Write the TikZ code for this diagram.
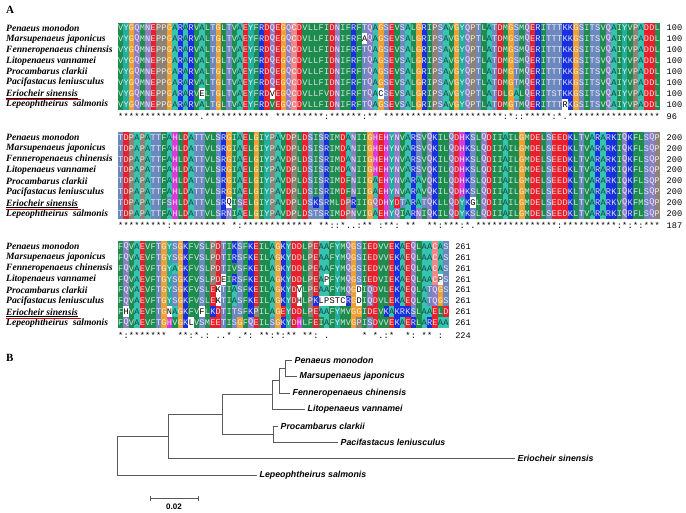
\documentclass[tikz,border=0pt]{standalone}
\usepackage{fontspec}
\setmainfont{Liberation Serif}
\newfontfamily\resfont{Liberation Mono}
\newfontfamily\arialfont{Liberation Sans}
\usepackage{tikz}
\newcount\rescol

\begin{document}
\begin{tikzpicture}[x=1pt,y=-1pt,
  res/.style={inner sep=0pt,font=\resfont\fontsize{8.6}{9}\selectfont},
  spname/.style={anchor=west,inner sep=0pt,font=\bfseries\itshape\fontsize{9.6}{11}\selectfont},
  leaf/.style={anchor=west,inner sep=2.5pt,font=\arialfont\bfseries\itshape\fontsize{8.8}{10}\selectfont},
  branch/.style={draw=treeGray,line width=0.9pt},
  panel/.style={anchor=west,inner sep=0pt,font=\bfseries\fontsize{11}{12}\selectfont}]
\useasboundingbox (0,0) rectangle (686,513);

% Colori dei residui (stile ClustalX)
\definecolor{hydGreen}{HTML}{1E8C4E}
\definecolor{alaCyan}{HTML}{36C4B0}
\definecolor{tyrTeal}{HTML}{22AE9E}
\definecolor{hisMag}{HTML}{D83CD8}
\definecolor{glyOrange}{HTML}{F0A030}
\definecolor{proTaupe}{HTML}{8E8274}
\definecolor{polSlate}{HTML}{6C88BE}
\definecolor{amdLilac}{HTML}{8C7EC4}
\definecolor{acdRed}{HTML}{E8202C}
\definecolor{basBlue}{HTML}{1830E0}
\definecolor{cysPink}{HTML}{F08888}
\definecolor{treeGray}{HTML}{5A5A5A}
\colorlet{bgV}{hydGreen}\colorlet{bgL}{hydGreen}\colorlet{bgI}{hydGreen}
\colorlet{bgM}{hydGreen}\colorlet{bgF}{hydGreen}\colorlet{bgW}{hydGreen}
\colorlet{bgA}{alaCyan}\colorlet{bgY}{tyrTeal}\colorlet{bgH}{hisMag}
\colorlet{bgG}{glyOrange}\colorlet{bgP}{proTaupe}\colorlet{bgC}{cysPink}
\colorlet{bgS}{polSlate}\colorlet{bgT}{polSlate}
\colorlet{bgN}{amdLilac}\colorlet{bgQ}{amdLilac}
\colorlet{bgD}{acdRed}\colorlet{bgE}{acdRed}
\colorlet{bgK}{basBlue}\colorlet{bgR}{basBlue}
\colorlet{fgV}{hydGreen!20!white}\colorlet{fgL}{fgV}\colorlet{fgI}{fgV}
\colorlet{fgM}{fgV}\colorlet{fgF}{fgV}\colorlet{fgW}{fgV}
\colorlet{fgA}{alaCyan!35!black}\colorlet{fgY}{tyrTeal!15!white}
\colorlet{fgH}{hisMag!15!white}\colorlet{fgG}{glyOrange!20!white}
\colorlet{fgP}{proTaupe!15!white}\colorlet{fgC}{white}
\colorlet{fgS}{polSlate!15!white}\colorlet{fgT}{fgS}
\colorlet{fgN}{amdLilac!15!white}\colorlet{fgQ}{fgN}
\colorlet{fgD}{acdRed!15!white}\colorlet{fgE}{fgD}
\colorlet{fgK}{basBlue!15!white}\colorlet{fgR}{fgK}

% Geometria dell'allineamento
\def\ax{118}   % bordo sinistro
\def\cw{5.42}  % larghezza colonna
\def\rh{10.9}  % altezza riga

% una riga: minuscola = residuo non colorato
\def\resloop#1{\ifx#1\relax\else\rescell#1\expandafter\resloop\fi}
\def\rescell#1{%
  \global\advance\rescol by 1
  \ifnum`#1>`Z \def\cbg{white}\def\cfg{black}\else\def\cbg{bg#1}\def\cfg{fg#1}\fi
  \pgfmathsetmacro\cx{\ax+(\the\rescol-1)*\cw}%
  \fill[fill=\cbg] (\cx,\ry-0.5*\rh) rectangle (\cx+\cw+0.06,\ry+0.5*\rh);
  \node[res,text=\cfg] (\rtag c\the\rescol) at (\cx+0.5*\cw,\ry) {\uppercase{#1}};}
\def\seqrow#1#2#3#4{\def\rtag{#1}\def\ry{#2}\global\rescol=0
  \resloop#4\relax
  \pgfmathsetmacro\cx{\ax+\the\rescol*\cw+6.5}%
  \node[res,anchor=west] (#1n) at (\cx,\ry) {#3};}

% riga di conservazione: '-' = spazio
\def\consloop#1{\ifx#1\relax\else\conscell#1\expandafter\consloop\fi}
\def\conscell#1{%
  \global\advance\rescol by 1
  \if#1-\else
    \pgfmathsetmacro\cx{\ax+(\the\rescol-0.5)*\cw}%
    \node[res,anchor=base] (\rtag c\the\rescol) at (\cx,\ry) {#1};%
  \fi}
\def\consrow#1#2#3#4{\def\rtag{#1}\def\ry{#2}\global\rescol=0
  \consloop#4\relax
  \pgfmathsetmacro\cx{\ax+\the\rescol*\cw+6.5}%
  \node[res,anchor=base west] (#1n) at (\cx,\ry) {#3};}

% nomi delle specie
\def\spnames#1#2{%
  \foreach \nm [count=\i] in {Penaeus monodon,Marsupenaeus japonicus,
      Fenneropenaeus chinensis,Litopenaeus vannamei,Procambarus clarkii,
      Pacifastacus leniusculus,Eriocheir sinensis,Lepeophtheirus\ \ salmonis}
    \node[spname] (#1s\i) at (6,{#2+(\i-1)*\rh}) {\nm};
  \draw[line width=0.5pt] ([yshift=-1.3pt]#1s7.base west) -- ([yshift=-1.3pt]#1s7.base east);
  \draw[red!85!black,line width=0.7pt] ([yshift=-3pt]#1s7.base west) -- ([xshift=3pt,yshift=-3pt]#1s7.base east);}

% Etichette dei pannelli
\node[panel] (labA) at (6,10) {A};
\node[panel] (labB) at (6,358) {B};

% Blocco 1 (1-100)
\spnames{b1}{28}
\seqrow{b1r1}{28.0}{100}{VYGQMNEPPGARARVALTGLTVAEYFRDQEGQCDVLLFIDNIFRFTQAGSEVSALGRIPSAVGYQPTLATDMGSMQERITTTKKGSITSVQAIYVPADDL}
\seqrow{b1r2}{38.9}{100}{VYGQMNEPPGARARVALTGLTVAEYFRDQEGQCDVLLFIDNIFRFaQAGSEVSALGRIPSAVGYQPTLATDMGSMQERITTTKKGSITSVQAIYVPADDL}
\seqrow{b1r3}{49.8}{100}{VYGQMNEPPGARARVALTGLTVAEYFRDQEGQCDVLLFIDNIFRFTQAGSEVSALGRIPSAVGYQPTLATDMGSMQERITTTKKGSITSVQAIYVPADDL}
\seqrow{b1r4}{60.7}{100}{VYGQMNEPPGARARVALTGLTVAEYFRDQEGQCDVLLFIDNIFRFTQAGSEVSALGRIPSAVGYQPTLATDMGSMQERITTTKKGSITSVQAIYVPADDL}
\seqrow{b1r5}{71.6}{100}{VYGQMNEPPGARARVALTGLTVAEYFRDQEGQCDVLLFIDNIFRFTQAGSEVSALGRIPSAVGYQPTLATDMGTMQERITTTKKGSITSVQAIYVPADDL}
\seqrow{b1r6}{82.5}{100}{VYGQMNEPPGARARVALTGLTVAEYFRDQEGQCDVLLFIDNIFRFTQAGSEVSALGRIPSAVGYQPTLATDMGTMQERITTTKKGSITSVQAIYVPADDL}
\seqrow{b1r7}{93.4}{100}{VYGQMNEPPGARARVeLTGLTVAEYFRDvEGQCDVLLFVDNIFRFTQAcSEVSALGRIPSAVGYQPTLATDLGALQERITSTKKGSITSVQAIYVPADDL}
\seqrow{b1r8}{104.3}{100}{VYGQMNEPPGARARVALTGLTVAEYFRDVEGQCDVLLFIDNIFRFTQAGSEVSALGRIPSAVGYQPTLATDMGTMQERITTTrKGSITSVQAIYVPADDL}
\consrow{b1k}{120}{96}{***************.************-*********:******:**-**********************:*::*****:*.*****************}

% Blocco 2 (101-200)
\spnames{b2}{137.4}
\seqrow{b2r1}{137.4}{200}{TDPAPATTFAHLDATTVLSRGIAELGIYPAVDPLDSISRIMDANIIGHEHYNVARSVQKILQDHKSLQDIIAILGMDELSEEDKLTVARARKIQKFLSQP}
\seqrow{b2r2}{148.3}{200}{TDPAPATTFAHLDATTVLSRGIAELGIYPAVDPLDSISRIMDANIIGHEHYNVARSVQKILQDHKSLQDIIAILGMDELSEEDKLTVARARKIQKFLSQP}
\seqrow{b2r3}{159.2}{200}{TDPAPATTFAHLDATTVLSRGIAELGIYPAVDPLDSISRIMDANIIGHEHYNVARSVQKILQDHKSLQDIIAILGMDELSEEDKLTVARARKIQKFLSQP}
\seqrow{b2r4}{170.1}{200}{TDPAPATTFAHLDATTVLSRGIAELGIYPAVDPLDSISRIMDANIIGHEHYNVARSVQKILQDHKSLQDIIAILGMDELSEEDKLTVARARKIQKFLSQP}
\seqrow{b2r5}{181.0}{200}{TDPAPATTFAHLDATTVLSRGIAELGIYPAVDPLDSISRIMDFNIIGAEHYNVARAVQKILQDHKSLQDIIAILGMDELSEEDKLTVARARKIQKFLSQP}
\seqrow{b2r6}{191.9}{200}{TDPAPATTFAHLDATTVLSRGIAELGIYPAVDPLDSISRIMDFNIIGAEHYNVARAVQKILQDHKSLQDIIAILGMDELSEEDKLTVARARKIQKFLSQP}
\seqrow{b2r7}{202.8}{200}{TDPAPATTFSHLDATTVLSRqISELGIYPAVDPLDSKSRMLDPRIIGQDHYDTARATQKLLQDYKgLQDIIAILGMDELSEDDKLTVARARKVQKFMSQP}
\seqrow{b2r8}{213.7}{200}{TDPAPATTFAHLDATTVLSRNIAELGIYPAVDPLDSTSRIMDPNVIGAEHYQIARNIQKILQDYKSLQDIIAILGMDELSEEDKLTVARARKIQRFLSQP}
\consrow{b2k}{229}{187}{*********:**********-*:*************-**::*..:**-:**:-**--**:***:*.***************:**********:*:*:***}

% Blocco 3 (201-261)
\spnames{b3}{246.5}
\seqrow{b3r1}{246.5}{261}{FQVAEVFTGYSGKFVSLPDTIKSFKEILAGKYDDLPEAAFYMQGSIEDVVEKAEQLAACAS}
\seqrow{b3r2}{257.4}{261}{FQVAEVFTGYSGKFVSLPDTIRSFKEILAGKYDDLPEAAFYMQGSIEDVVEKAEQLAACAS}
\seqrow{b3r3}{268.3}{261}{FQVAEVFTGYAGKFVSLPDTIVSFKEILAGKYDDLPEAAFYMQGSIEDVVEKAEQLAACAS}
\seqrow{b3r4}{279.2}{261}{FQVAEVFTGYSGKFVSLPDeIRSFKEILAGKYDDLPEApFYMQGSIEDVIEKAEQLAACpS}
\seqrow{b3r5}{290.1}{261}{FQVAEVFTGYSGKFVSLEkTIASFKEILAGKYDvLPEAAFYMQGdIQDVLEKAEQLATQGS}
\seqrow{b3r6}{301.0}{261}{FQVAEVFTGYSGKFVSLEkTIASFKEILAGKYDhLPKlpstcRGdIQDVLEKAEQLATQGS}
\seqrow{b3r7}{311.9}{261}{FhVAEVFTGnAGKFVfLKDTITSFKPILAGEYDDLPEAAFYMVGGIDEVKAKRKSLAAELD}
\seqrow{b3r8}{322.8}{261}{FQVAEVFTGHVGKlVSMEETISGFQEILSGKYDHLFEIAFYMVGPISDVVEKAERLAREAA}
\consrow{b3k}{338}{224}{*:*******--**:*.:-..*-.*:-**:*:**-**:-.------*-*.:*--*:-**-:-}

% Albero filogenetico
\coordinate (n1) at (285,368);
\coordinate (n2) at (279,380.5);
\coordinate (n3) at (272,394.75);
\coordinate (n4) at (273,434);
\coordinate (n5) at (222,414.4);
\coordinate (n6) at (168,436.2);
\coordinate (n7) at (117,455.6);
\node[leaf] (lPm) at (292,360) {Penaeus monodon};
\node[leaf] (lMj) at (297,376) {Marsupenaeus japonicus};
\node[leaf] (lFc) at (290,393) {Fenneropenaeus chinensis};
\node[leaf] (lLv) at (305,409) {Litopenaeus vannamei};
\node[leaf] (lPc) at (278,426) {Procambarus clarkii};
\node[leaf] (lPl) at (338,442) {Pacifastacus leniusculus};
\node[leaf] (lEs) at (515,458) {Eriocheir sinensis};
\node[leaf] (lLs) at (257,475) {Lepeophtheirus salmonis};
\draw[branch] (n1) |- (lPm.west) (n1) |- (lMj.west);
\draw[branch] (n2) |- (n1) (n2) |- (lFc.west);
\draw[branch] (n3) |- (n2) (n3) |- (lLv.west);
\draw[branch] (n4) |- (lPc.west) (n4) |- (lPl.west);
\draw[branch] (n5) |- (n3) (n5) |- (n4);
\draw[branch] (n6) |- (n5) (n6) |- (lEs.west);
\draw[branch] (n7) |- (n6) (n7) |- (lLs.west);

% Barra di scala
\coordinate (sbL) at (150,498);
\coordinate (sbR) at (198,498);
\draw[branch] (sbL) -- (sbR);
\draw[branch] ([yshift=-2.5pt]sbL) -- ([yshift=2.5pt]sbL);
\draw[branch] ([yshift=-2.5pt]sbR) -- ([yshift=2.5pt]sbR);
\node[font=\arialfont\bfseries\fontsize{8}{9}\selectfont,inner sep=0pt] (sbT) at (174,507) {0.02};
\end{tikzpicture}
\end{document}
